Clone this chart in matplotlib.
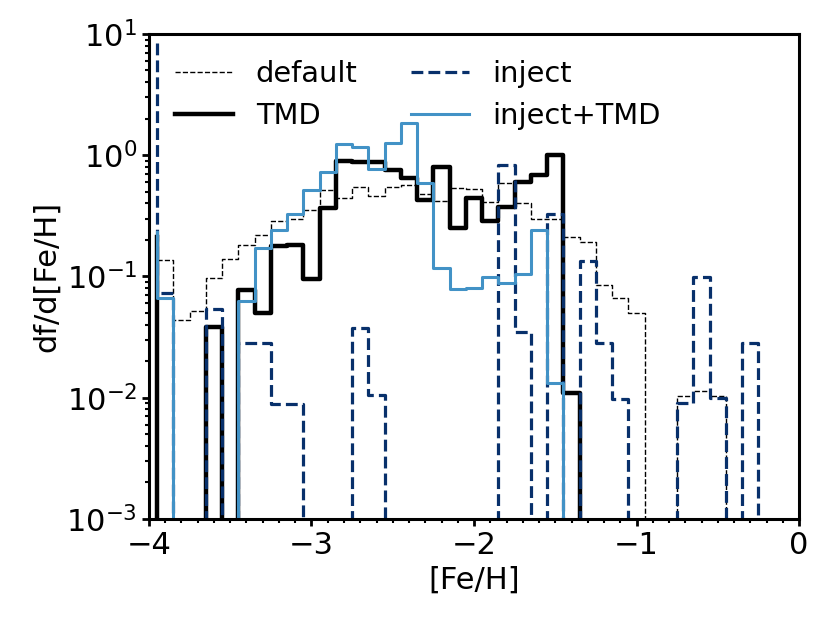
import numpy as np
import matplotlib
matplotlib.use('Agg')
import matplotlib.pyplot as plt
from matplotlib.ticker import MultipleLocator

# histogram bin edges: 0.1 dex wide, starting at -3.95
bin_width = 0.1
first_edge = -3.95
n_pts = 40

# df/d[Fe/H]; first value is where each step line starts at the first edge,
# value k is the bin ending at edge k (0 = empty bin)
default = [0.137, 0.137, 0.044, 0.052, 0.097, 0.139, 0.182, 0.22, 0.288, 0.295,
           0.355, 0.52, 0.442, 0.548, 0.458, 0.545, 0.57, 0.48, 0.42, 0.54,
           0.53, 0.415, 0.595, 0.40, 0.297, 0.297, 0.213, 0.194, 0.085, 0.0668,
           0.0497, 0, 0, 0.0103, 0.0114, 0.0103, 0, 0, 0, 0]
tmd = [0.213, 0, 0, 0, 0.0386, 0, 0.0775, 0.0497, 0.177, 0.183,
       0.096, 0.365, 0.90, 0.875, 0.875, 0.755, 0.645, 0.427, 0.80, 0.25,
       0.442, 0.288, 0.377, 0.605, 0.687, 1.005, 0.0109, 0, 0, 0,
       0, 0, 0, 0, 0, 0, 0, 0, 0, 0]
inject = [8.5, 0.0733, 0, 0, 0.054, 0, 0.028, 0.028, 0.0089, 0.0089,
          0, 0, 0, 0.0374, 0.0105, 0, 0, 0, 0, 0,
          0, 0, 0.83, 0.035, 0, 0.33, 0, 0.135, 0.028, 0.0097,
          0, 0, 0, 0.009, 0.0995, 0.0099, 0, 0.028, 0, 0]
inject_tmd = [0.234, 0.0658, 0, 0, 0, 0, 0.063, 0.171, 0.241, 0.33,
              0.517, 0.73, 1.24, 1.175, 0.775, 1.25, 1.85, 0.595, 0.117, 0.079,
              0.080, 0.0996, 0.0883, 0.104, 0.241, 0.0132, 0, 0, 0, 0,
              0, 0, 0, 0, 0, 0, 0, 0, 0, 0]

edges = first_edge + bin_width * np.arange(n_pts)
floor = 1e-6  # stand-in for empty bins on the log axis

def step(ax, vals, **kw):
    v = np.array(vals, dtype=float)
    v[v <= 0] = floor
    return ax.plot(edges, v, drawstyle='steps-pre', **kw)

plt.rcParams['font.size'] = 22
fig = plt.figure(figsize=(8.3, 6.23), dpi=100)
ax = fig.add_axes([0.1795, 0.167, 0.7832, 0.7785])

step(ax, default, color='k', lw=1.0, ls='--', label='default')
step(ax, tmd, color='k', lw=3.2, label='TMD')
step(ax, inject, color='#08306b', lw=2.3, ls='--', label='inject')
step(ax, inject_tmd, color='#4292c6', lw=2.2, label='inject+TMD')

ax.set_yscale('log')
ax.set_xlim(-4, 0)
ax.set_ylim(1e-3, 1e1)
ax.xaxis.set_major_locator(MultipleLocator(1))
ax.xaxis.set_minor_locator(MultipleLocator(0.1))
ax.set_xlabel('[Fe/H]', fontsize=22)
ax.set_ylabel('df/d[Fe/H]', fontsize=22)
for s in ax.spines.values():
    s.set_linewidth(2.2)
ax.tick_params(which='major', width=2, length=5, labelsize=22)
ax.tick_params(which='minor', width=1.5, length=3)

ax.legend(loc='upper left', ncol=2, frameon=False, fontsize=20.8,
          bbox_to_anchor=(0.0, 1.0), columnspacing=1.85, handletextpad=0.8,
          handlelength=2.0)

fig.savefig('out.png', dpi=100)
